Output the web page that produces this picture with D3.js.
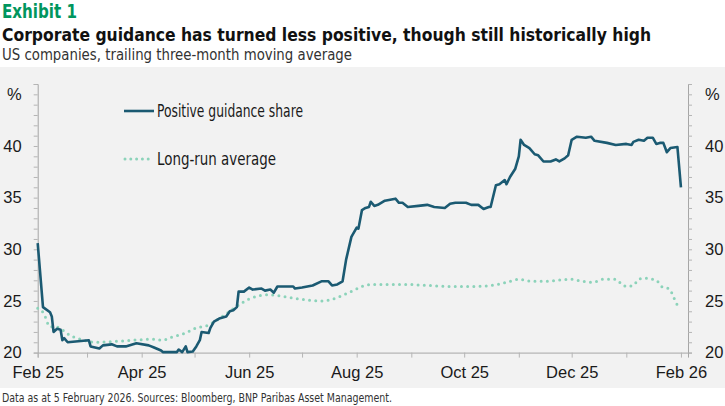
<!DOCTYPE html>
<html>
<head>
<meta charset="utf-8">
<script src="https://cdn.jsdelivr.net/npm/d3@7"></script>
<style>
  body { margin: 0; background: #fff; }
  svg { display: block; font-family: "Liberation Sans Narrow", "DejaVu Sans Condensed", "Roboto", sans-serif; }
</style>
</head>
<body>
<div id="chart"></div>
<script>
// Positive guidance share (trailing three-month moving average, %)
const guidanceDates = [
  "2025-02-01","2025-02-04","2025-02-08","2025-02-09","2025-02-10","2025-02-12","2025-02-14","2025-02-15",
  "2025-02-16","2025-02-18","2025-03-02","2025-03-03","2025-03-08","2025-03-10","2025-03-15","2025-03-18",
  "2025-03-23","2025-03-29","2025-04-05","2025-04-08","2025-04-12","2025-04-13","2025-04-21","2025-04-22",
  "2025-04-24","2025-04-26","2025-04-27","2025-04-30","2025-05-02","2025-05-04","2025-05-05","2025-05-09",
  "2025-05-10","2025-05-12","2025-05-15","2025-05-19","2025-05-21","2025-05-23","2025-05-25","2025-05-26",
  "2025-05-29","2025-06-01","2025-06-03","2025-06-08","2025-06-10","2025-06-13","2025-06-15","2025-06-17",
  "2025-06-26","2025-06-27","2025-07-01","2025-07-07","2025-07-12","2025-07-16","2025-07-18","2025-07-21",
  "2025-07-24","2025-07-26","2025-07-29","2025-08-01","2025-08-02","2025-08-04","2025-08-06","2025-08-08",
  "2025-08-09","2025-08-11","2025-08-13","2025-08-17","2025-08-23","2025-08-25","2025-08-27","2025-08-30",
  "2025-09-05","2025-09-10","2025-09-14","2025-09-20","2025-09-23","2025-09-26","2025-10-02","2025-10-05",
  "2025-10-09","2025-10-12","2025-10-15","2025-10-16","2025-10-19","2025-10-21","2025-10-24","2025-10-25",
  "2025-10-27","2025-10-30","2025-11-01","2025-11-02","2025-11-04","2025-11-07","2025-11-10","2025-11-12",
  "2025-11-15","2025-11-19","2025-11-22","2025-11-24","2025-11-27","2025-11-29","2025-12-01","2025-12-04",
  "2025-12-09","2025-12-12","2025-12-14","2025-12-21","2025-12-26","2026-01-01","2026-01-04","2026-01-05",
  "2026-01-08","2026-01-11","2026-01-13","2026-01-16","2026-01-18","2026-01-20","2026-01-22","2026-01-24",
  "2026-01-26","2026-01-30","2026-02-01"
];
const guidanceValues = [
  30.6,24.4,23.9,23.5,22.0,22.3,22.2,21.2,
  21.4,21.0,21.2,20.6,20.4,20.7,20.8,20.6,
  20.6,20.9,20.7,20.5,20.2,20.05,20.05,20.3,
  20.05,20.6,20.05,20.1,20.6,21.2,22.0,21.9,
  22.4,23.0,23.3,23.5,24.0,24.1,24.4,25.9,
  25.9,26.3,26.1,26.2,26.0,26.1,25.8,26.4,
  26.4,26.2,26.3,26.5,26.9,26.9,26.5,26.6,
  26.9,29.0,31.2,32.1,32.0,33.8,34.0,34.1,
  34.6,34.2,34.3,34.7,34.9,34.5,34.5,34.1,
  34.2,34.3,34.1,34.0,34.4,34.5,34.5,34.3,
  34.3,33.9,34.1,34.1,36.2,36.3,36.7,36.3,
  37.0,37.8,39.0,40.6,40.1,39.8,39.2,39.1,
  38.5,38.5,38.7,38.5,38.8,39.1,40.6,40.9,
  40.8,40.9,40.5,40.3,40.1,40.2,40.1,40.4,
  40.6,40.5,40.8,40.8,40.2,40.3,40.3,39.4,
  39.8,39.9,36.0
];

// Long-run average (%)
const averageDates = [
  "2025-02-01","2025-02-05","2025-02-06","2025-02-08","2025-02-11","2025-02-15","2025-02-19","2025-02-25",
  "2025-03-06","2025-03-18","2025-03-27","2025-04-07","2025-04-13","2025-04-18","2025-04-26","2025-05-02",
  "2025-05-08","2025-05-15","2025-05-21","2025-05-26","2025-06-01","2025-06-12","2025-06-18","2025-06-29",
  "2025-07-11","2025-07-17","2025-07-22","2025-07-30","2025-08-04","2025-08-10","2025-08-18","2025-08-29",
  "2025-09-10","2025-09-25","2025-10-06","2025-10-20","2025-10-25","2025-11-01","2025-11-09","2025-11-16",
  "2025-11-30","2025-12-07","2025-12-13","2025-12-19","2025-12-26","2025-12-29","2026-01-01","2026-01-05",
  "2026-01-08","2026-01-11","2026-01-18","2026-01-21","2026-01-25","2026-01-27","2026-01-29","2026-01-31"
];
const averageValues = [
  24.3,23.6,23.1,22.5,22.5,22.2,21.7,21.3,
  21.0,21.1,21.2,21.3,21.2,21.5,21.9,22.4,
  22.6,23.3,24.0,24.6,25.2,25.6,25.5,25.2,
  25.0,25.1,25.4,26.0,26.4,26.6,26.6,26.6,
  26.5,26.4,26.4,26.6,26.8,27.1,26.9,26.9,
  27.1,26.9,26.8,27.1,27.1,26.7,26.4,26.5,
  27.1,27.2,27.0,26.4,26.2,25.7,24.9,24.3
];

const yTicks = d3.range(20, 47);
const xTicks = ["2025-02-01","2025-03-01","2025-04-01","2025-05-01","2025-06-01","2025-07-01","2025-08-01",
  "2025-09-01","2025-10-01","2025-11-01","2025-12-01","2026-01-01","2026-02-01"];
const legendLabels = ["Positive guidance share", "Long-run average"];

const parse = d3.timeParse("%Y-%m-%d");
const guidance = guidanceDates.map((d, i) => ({ date: parse(d), value: guidanceValues[i] }));
const average = averageDates.map((d, i) => ({ date: parse(d), value: averageValues[i] }));

const W = 725, H = 406;
const darkTeal = "#1b5a72", lightTeal = "#8cd3ba";

const svg = d3.select("#chart").append("svg")
  .attr("width", W)
  .attr("height", H);

// Header texts, squeezed to the widths they take in the original (condensed face not installed)
function addText(xPos, yPos, size, weight, fill, width, str) {
  return svg.append("text").attr("x", xPos).attr("y", yPos)
    .style("font-size", size + "px").style("font-weight", weight).attr("fill", fill)
    .attr("textLength", width).attr("lengthAdjust", "spacingAndGlyphs")
    .text(str);
}
addText(2, 18, 20, "bold", "#00965e", 75, "Exhibit 1");
addText(2, 40.5, 18, "bold", "#111", 649, "Corporate guidance has turned less positive, though still historically high");
addText(2, 60, 15.5, "normal", "#333", 350, "US companies, trailing three-month moving average");

// Grey panel
svg.append("rect").attr("x", 0).attr("y", 67).attr("width", W).attr("height", 321).attr("fill", "#f2f2f2");

// Footnote
addText(2, 401.5, 12, "normal", "#333", 390, "Data as at 5 February 2026. Sources: Bloomberg, BNP Paribas Asset Management.");

// Scales
const x = d3.scaleTime()
  .domain([parse("2025-02-01"), parse("2026-02-05")])
  .range([37.7, 688]);
const y = d3.scaleLinear()
  .domain([20, 46])
  .range([352.6, 84]);

const yFormat = d => d === 45 ? "%" : (d % 5 === 0 && d < 45 ? d : "");

function styleAxis(g) {
  g.select(".domain").attr("stroke", "#a6a6a6");
  g.selectAll(".tick line").attr("stroke", "#b5b5b5");
  g.selectAll(".tick text").attr("fill", "#1a1a1a").style("font-size", "16.5px").style("font-family", "inherit");
}

svg.append("g")
  .attr("transform", `translate(${x.range()[0]},0)`)
  .call(d3.axisLeft(y).tickValues(yTicks).tickSize(4).tickPadding(12).tickFormat(yFormat))
  .call(styleAxis);

svg.append("g")
  .attr("transform", `translate(${x.range()[1]},0)`)
  .call(d3.axisRight(y).tickValues(yTicks).tickSize(4).tickPadding(13).tickFormat(yFormat))
  .call(styleAxis);

svg.append("g")
  .attr("transform", `translate(0,${y.range()[0]})`)
  .call(d3.axisBottom(x).tickValues(xTicks.map(parse)).tickSize(5).tickPadding(9)
    .tickFormat((d, i) => i % 2 === 0 ? d3.timeFormat("%b %y")(d) : ""))
  .call(styleAxis);

// Lines
const line = d3.line().x(d => x(d.date)).y(d => y(d.value));

svg.append("path")
  .datum(average)
  .attr("fill", "none")
  .attr("stroke", lightTeal)
  .attr("stroke-width", 3)
  .attr("stroke-linecap", "round")
  .attr("stroke-dasharray", "0 6.2")
  .attr("d", line.curve(d3.curveMonotoneX));

svg.append("path")
  .datum(guidance)
  .attr("fill", "none")
  .attr("stroke", darkTeal)
  .attr("stroke-width", 2.6)
  .attr("stroke-linejoin", "round")
  .attr("d", line.curve(d3.curveLinear));

// Legend
const legend = svg.append("g");
legend.append("line").attr("x1", 124).attr("x2", 154).attr("y1", 111).attr("y2", 111)
  .attr("stroke", darkTeal).attr("stroke-width", 2.6);
legend.append("line").attr("x1", 125).attr("x2", 154).attr("y1", 159).attr("y2", 159)
  .attr("stroke", lightTeal).attr("stroke-width", 3).attr("stroke-linecap", "round")
  .attr("stroke-dasharray", "0 5.8");
legend.selectAll("text.lbl")
  .data(legendLabels)
  .enter().append("text")
  .attr("class", "lbl")
  .attr("x", 157)
  .attr("y", (d, i) => i === 0 ? 116.5 : 164.5)
  .style("font-size", "17px")
  .attr("fill", "#1a1a1a")
  .attr("textLength", (d, i) => i === 0 ? 146 : 119)
  .attr("lengthAdjust", "spacingAndGlyphs")
  .text(d => d);
</script>
</body>
</html>
